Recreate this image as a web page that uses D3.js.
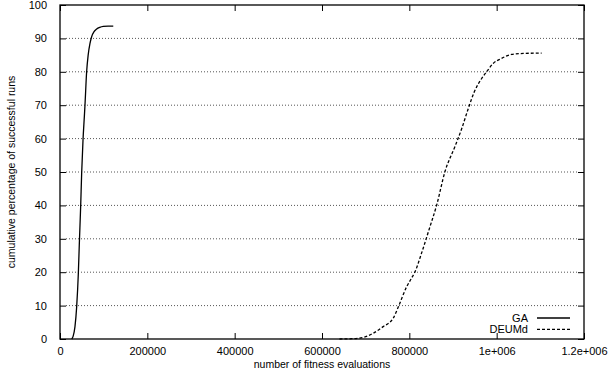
<!DOCTYPE html>
<html>
<head>
<meta charset="utf-8">
<script src="https://cdn.jsdelivr.net/npm/d3@7"></script>
<style>
  body { margin: 0; background: #fff; }
  svg { font-family: "Liberation Sans", Arial, sans-serif; }
</style>
</head>
<body>
<svg id="chart" width="610" height="375"></svg>
<script>
// data (evaluations, cumulative %)
const gaEvals   = [26800, 30000, 34300, 38200, 42000, 44300, 47300, 49600, 52700, 55700, 57200, 61000, 64500, 68700, 72500, 78000, 84000, 91000, 99200, 110000, 122000];
const gaPct     = [0, 0.8, 3.7, 9.7, 19.7, 28.7, 39.6, 49.6, 59.6, 66.5, 70, 80, 85, 88.5, 90.5, 92, 92.8, 93.3, 93.6, 93.7, 93.7];

const deEvals   = [640000, 670000, 694600, 717000, 740000, 763000, 776000, 794000, 805000, 813000, 828000, 846000, 862600, 881600, 905000, 920000, 935000, 948800, 965700, 977000, 992000, 1011000, 1034000, 1061000, 1103000];
const dePct     = [0, 0.1, 0.5, 1.7, 3.7, 6.2, 10, 15.7, 18.2, 20.1, 25.7, 33.1, 40.1, 50.1, 57.8, 63, 69, 74, 78, 80, 82.5, 84, 85.2, 85.5, 85.6];

const xTicks      = [0, 200000, 400000, 600000, 800000, 1000000, 1200000];
const xTickLabels = ["0", "200000", "400000", "600000", "800000", "1e+006", "1.2e+006"];
const yTicks      = [0, 10, 20, 30, 40, 50, 60, 70, 80, 90, 100];

const svg = d3.select("#chart");
const margin = { left: 60, top: 5, right: 26, bottom: 36 };
const width = 610 - margin.left - margin.right;
const height = 375 - margin.top - margin.bottom;
const g = svg.append("g").attr("transform", "translate(" + margin.left + "," + margin.top + ")");

const x = d3.scaleLinear().domain([0, 1200000]).range([0, width]);
const y = d3.scaleLinear().domain([0, 100]).range([height, 0]);
const tickLen = 6;

// horizontal dotted grid
g.selectAll(".grid")
  .data(yTicks.filter(d => d > 0 && d < 100))
  .enter().append("line")
    .attr("x1", tickLen).attr("x2", width - tickLen)
    .attr("y1", d => y(d)).attr("y2", d => y(d))
    .attr("stroke", "#555")
    .attr("stroke-width", 1)
    .attr("stroke-dasharray", "1,2");

// axes with inward ticks, mirrored on top / right
const fmt = d => xTickLabels[xTicks.indexOf(d)];
const axBottom = g.append("g").attr("transform", "translate(0," + height + ")")
  .call(d3.axisBottom(x).tickValues(xTicks).tickFormat(fmt).tickSizeInner(-tickLen).tickSizeOuter(0).tickPadding(8));
const axTop = g.append("g")
  .call(d3.axisTop(x).tickValues(xTicks).tickFormat("").tickSizeInner(-tickLen).tickSizeOuter(0));
const axLeft = g.append("g")
  .call(d3.axisLeft(y).tickValues(yTicks).tickSizeInner(-tickLen).tickSizeOuter(0).tickPadding(13));
const axRight = g.append("g").attr("transform", "translate(" + width + ",0)")
  .call(d3.axisRight(y).tickValues(yTicks).tickFormat("").tickSizeInner(-tickLen).tickSizeOuter(0));

[axBottom, axTop, axLeft, axRight].forEach(a => {
  a.select(".domain").remove();
  a.selectAll("line").attr("stroke", "#000");
  a.selectAll("text").attr("fill", "#000").style("font-size", "11px");
});

// frame
g.append("rect")
  .attr("width", width).attr("height", height)
  .attr("fill", "none").attr("stroke", "#000").attr("stroke-width", 1.3);

// curves
const line = d3.line().x(d => x(d[0])).y(d => y(d[1])).curve(d3.curveMonotoneX);

g.append("path")
  .datum(d3.zip(gaEvals, gaPct))
  .attr("d", line)
  .attr("fill", "none").attr("stroke", "#000").attr("stroke-width", 1.3);

g.append("path")
  .datum(d3.zip(deEvals, dePct))
  .attr("d", line)
  .attr("fill", "none").attr("stroke", "#000").attr("stroke-width", 1.3)
  .attr("stroke-dasharray", "3,2");

// legend
const legend = [
  { name: "GA", dash: null },
  { name: "DEUMd", dash: "3,2" }
];
legend.forEach((d, i) => {
  const ly = 318 + i * 11.3;
  svg.append("text")
    .attr("x", 528).attr("y", ly + 4)
    .attr("text-anchor", "end")
    .style("font-size", "11px")
    .text(d.name);
  svg.append("line")
    .attr("x1", 537).attr("x2", 570)
    .attr("y1", ly).attr("y2", ly)
    .attr("stroke", "#000").attr("stroke-width", 1.3)
    .attr("stroke-dasharray", d.dash);
});

// axis titles
svg.append("text")
  .attr("x", margin.left + width / 2).attr("y", 368)
  .attr("text-anchor", "middle")
  .style("font-size", "10.5px")
  .text("number of fitness evaluations");

svg.append("text")
  .attr("transform", "translate(15," + (margin.top + height / 2) + ") rotate(-90)")
  .attr("text-anchor", "middle")
  .style("font-size", "10.5px")
  .text("cumulative percentage of successful runs");
</script>
</body>
</html>
